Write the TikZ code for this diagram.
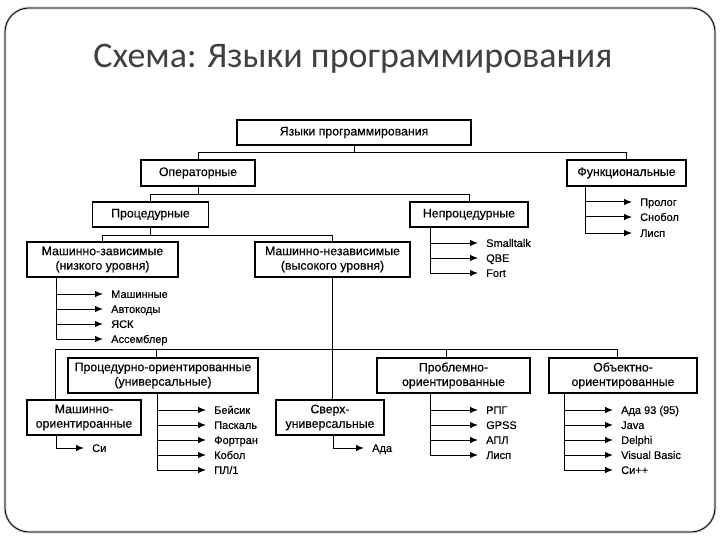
\documentclass[tikz,border=0pt]{standalone}
\usepackage{fontspec}
\setmainfont{Liberation Sans}[FakeBold=0.35]
\newfontfamily\titlefont{Carlito}
\usetikzlibrary{arrows.meta}
\begin{document}
\begin{tikzpicture}[x=1pt,y=-1pt,
  box/.style={draw, line width=1.3pt, inner sep=0pt, align=center,
              font=\fontsize{12.3}{14.5}\selectfont},
  leaf/.style={anchor=west, inner xsep=8pt, inner ysep=1pt,
              text height=7.9pt, text depth=0pt,
              font=\fontsize{11}{12}\selectfont},
  conn/.style={line width=1pt},
  tipped/.style={line width=1pt, -{Latex[length=8pt,width=6.5pt]}}]
\useasboundingbox (0,0) rectangle (720,540);
% frame
\draw[gray!45, line width=2.6pt, rounded corners=24pt] (5,8) rectangle (715,532);
\draw[black, line width=0.8pt, rounded corners=24pt] (5,8) rectangle (715,532);
% title
\node[font=\titlefont\fontsize{36}{42}\selectfont, text=black!75] (title) at (353,59) {Схема: Языки программирования};

% boxes
\node[box, minimum width=234pt, minimum height=25pt] (b1) at (354,132.5) {Языки программирования};
\node[box, minimum width=114pt, minimum height=26pt] (b2) at (198,173) {Операторные};
\node[box, minimum width=119pt, minimum height=26pt] (b3) at (626.5,173) {Функциональные};
\node[box, minimum width=116pt, minimum height=25pt] (b4) at (150.5,214.5) {Процедурные};
\node[box, minimum width=118pt, minimum height=25pt] (b5) at (469,214.5) {Непроцедурные};
\node[box, minimum width=151pt, minimum height=35pt] (b6) at (102.5,259.5) {Машинно-зависимые\\(низкого уровня)};
\node[box, minimum width=155pt, minimum height=35pt] (b7) at (332.5,259.5) {Машинно-независимые\\(высокого уровня)};
\node[box, minimum width=190pt, minimum height=35pt] (b8) at (163,375.5) {Процедурно-ориентированные\\(универсальные)};
\node[box, minimum width=153pt, minimum height=35pt] (b9) at (453.5,375.5) {Проблемно-\\ориентированные};
\node[box, minimum width=148pt, minimum height=35pt] (b10) at (623,375.5) {Объектно-\\ориентированные};
\node[box, minimum width=114pt, minimum height=35pt] (b11) at (84,417.5) {Машинно-\\ориентироанные};
\node[box, minimum width=108pt, minimum height=35pt] (b12) at (330,417.5) {Сверх-\\универсальные};

% tree connectors
\draw[conn] (b1.south) -- (b1.south |- 0,153) -| (b2.north);
\draw[conn] (b1.south |- 0,153) -| (b3.north);
\draw[conn] (b2.south) -- (b2.south |- 0,195) -| (b4.north);
\draw[conn] (b2.south |- 0,195) -| (b5.north);
\draw[conn] (b4.south) -- (b4.south |- 0,235) -| (b6.north);
\draw[conn] (b4.south |- 0,235) -| (b7.north);
\draw[conn] (b7.south) -- (b7.south |- b12.north);
\coordinate (bus) at (b7.south |- 0,349);
\draw[conn] (bus) -| (b11.north -| 55,0);
\draw[conn] (bus) -| (b8.north -| 156,0);
\draw[conn] (bus) -| (b9.north -| 446,0);
\draw[conn] (bus) -| (b10.north -| 617,0);

% leaves
\node[leaf] (f1) at (632,202) {Пролог};
\node[leaf] (f2) at (632,217) {Снобол};
\node[leaf] (f3) at (632,233) {Лисп};
\node[leaf] (n1) at (478,243) {Smalltalk};
\node[leaf] (n2) at (478,258) {QBE};
\node[leaf] (n3) at (478,273) {Fort};
\node[leaf] (m1) at (103,294) {Машинные};
\node[leaf] (m2) at (103,309) {Автокоды};
\node[leaf] (m3) at (103,324) {ЯСК};
\node[leaf] (m4) at (103,339) {Ассемблер};
\node[leaf] (c1) at (84,448) {Си};
\node[leaf] (p1) at (206,410) {Бейсик};
\node[leaf] (p2) at (206,425) {Паскаль};
\node[leaf] (p3) at (206,440) {Фортран};
\node[leaf] (p4) at (206,455) {Кобол};
\node[leaf] (p5) at (206,470) {ПЛ/1};
\node[leaf] (s1) at (364,448) {Ада};
\node[leaf] (r1) at (478,410) {РПГ};
\node[leaf] (r2) at (478,425) {GPSS};
\node[leaf] (r3) at (478,440) {АПЛ};
\node[leaf] (r4) at (478,455) {Лисп};
\node[leaf] (o1) at (613,410) {Ада 93 (95)};
\node[leaf] (o2) at (613,425) {Java};
\node[leaf] (o3) at (613,440) {Delphi};
\node[leaf] (o4) at (613,455) {Visual Basic};
\node[leaf] (o5) at (613,470) {Си++};

% trunk tops
\coordinate (tF) at (b3.south -| 585,0);
\coordinate (tN) at (b5.south -| 430,0);
\coordinate (tM) at (b6.south -| 56,0);
\coordinate (tC) at (b11.south -| 56,0);
\coordinate (tP) at (b8.south -| 157,0);
\coordinate (tS) at (b12.south -| 333,0);
\coordinate (tR) at (b9.south -| 430,0);
\coordinate (tO) at (b10.south -| 564,0);

% trunks
\draw[conn] (tF) -- (tF |- f3.west);
\draw[conn] (tN) -- (tN |- n3.west);
\draw[conn] (tM) -- (tM |- m4.west);
\draw[conn] (tP) -- (tP |- p5.west);
\draw[conn] (tR) -- (tR |- r4.west);
\draw[conn] (tO) -- (tO |- o5.west);
\draw[conn] (tC) -- (tC |- c1.west);
\draw[conn] (tS) -- (tS |- s1.west);
% branches with arrow tips
\foreach \n/\t in {f1/tF,f2/tF,f3/tF,n1/tN,n2/tN,n3/tN,m1/tM,m2/tM,m3/tM,m4/tM,
                   c1/tC,p1/tP,p2/tP,p3/tP,p4/tP,p5/tP,s1/tS,
                   r1/tR,r2/tR,r3/tR,r4/tR,o1/tO,o2/tO,o3/tO,o4/tO,o5/tO}
  \draw[tipped] (\t |- \n.west) -- (\n.west);
\end{tikzpicture}
\end{document}
